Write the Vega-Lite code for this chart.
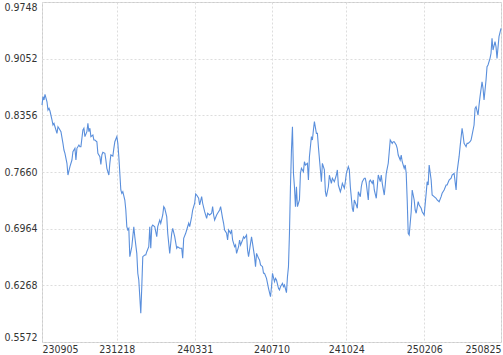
{
  "$schema": "https://vega.github.io/schema/vega-lite/v6.json",
  "width": 459,
  "height": 340,
  "autosize": {"type": "none"},
  "padding": {"left": 42, "top": 2, "right": 2, "bottom": 13},
  "background": "white",
  "config": {
    "view": {"stroke": "#cccccc", "strokeWidth": 1},
    "axis": {
      "labelFont": "DejaVu Sans Condensed",
      "labelFontSize": 10.5,
      "labelColor": "#333333",
      "ticks": false,
      "domain": false,
      "gridColor": "#dddddd",
      "gridDash": [2, 2],
      "gridWidth": 1,
      "title": null
    }
  },
  "data": {
    "values": [
      {"i":0,"v":0.8483},{"i":1,"v":0.8585},{"i":2,"v":0.8544},{"i":3,"v":0.8614},{"i":5,"v":0.8523},{"i":6,"v":0.8421},{"i":7,"v":0.8442},{"i":8,"v":0.8409},{"i":10,"v":0.8299},{"i":11,"v":0.8237},{"i":12,"v":0.8258},{"i":13,"v":0.8216},{"i":15,"v":0.8135},{"i":16,"v":0.8216},{"i":17,"v":0.8197},{"i":19,"v":0.8155},{"i":21,"v":0.8012},{"i":22,"v":0.7930},{"i":23,"v":0.7890},{"i":25,"v":0.7767},{"i":26,"v":0.7623},{"i":28,"v":0.7725},{"i":30,"v":0.7807},{"i":31,"v":0.7909},{"i":33,"v":0.7951},{"i":34,"v":0.7807},{"i":35,"v":0.7951},{"i":37,"v":0.7992},{"i":38,"v":0.7971},{"i":39,"v":0.7971},{"i":41,"v":0.8176},{"i":42,"v":0.8197},{"i":43,"v":0.8094},{"i":45,"v":0.8155},{"i":46,"v":0.8258},{"i":47,"v":0.8155},{"i":48,"v":0.8197},{"i":49,"v":0.8094},{"i":51,"v":0.8114},{"i":52,"v":0.8053},{"i":53,"v":0.8053},{"i":55,"v":0.8032},{"i":56,"v":0.7890},{"i":58,"v":0.7848},{"i":59,"v":0.7754},{"i":60,"v":0.7869},{"i":61,"v":0.7902},{"i":63,"v":0.7890},{"i":64,"v":0.7807},{"i":65,"v":0.7705},{"i":67,"v":0.7623},{"i":68,"v":0.7767},{"i":69,"v":0.7869},{"i":71,"v":0.7856},{"i":72,"v":0.7951},{"i":73,"v":0.8032},{"i":75,"v":0.8094},{"i":76,"v":0.8012},{"i":77,"v":0.7848},{"i":79,"v":0.7439},{"i":80,"v":0.7398},{"i":81,"v":0.7418},{"i":83,"v":0.7316},{"i":84,"v":0.7193},{"i":85,"v":0.6988},{"i":86,"v":0.6948},{"i":87,"v":0.6968},{"i":88,"v":0.6620},{"i":90,"v":0.6742},{"i":91,"v":0.6865},{"i":92,"v":0.6988},{"i":93,"v":0.6865},{"i":95,"v":0.6661},{"i":96,"v":0.6416},{"i":97,"v":0.6333},{"i":99,"v":0.5924},{"i":100,"v":0.6251},{"i":101,"v":0.6620},{"i":103,"v":0.6641},{"i":104,"v":0.6641},{"i":105,"v":0.6681},{"i":107,"v":0.6742},{"i":108,"v":0.6988},{"i":109,"v":0.6723},{"i":110,"v":0.6988},{"i":111,"v":0.7009},{"i":113,"v":0.6988},{"i":115,"v":0.6865},{"i":116,"v":0.6988},{"i":118,"v":0.7070},{"i":119,"v":0.7030},{"i":121,"v":0.7132},{"i":122,"v":0.7234},{"i":123,"v":0.7214},{"i":125,"v":0.7111},{"i":126,"v":0.6907},{"i":128,"v":0.6661},{"i":130,"v":0.6907},{"i":131,"v":0.6968},{"i":133,"v":0.6865},{"i":135,"v":0.6723},{"i":136,"v":0.6742},{"i":138,"v":0.6723},{"i":140,"v":0.6723},{"i":141,"v":0.6600},{"i":142,"v":0.6846},{"i":144,"v":0.6907},{"i":145,"v":0.6948},{"i":147,"v":0.7030},{"i":148,"v":0.6988},{"i":150,"v":0.7111},{"i":151,"v":0.7193},{"i":153,"v":0.7276},{"i":154,"v":0.7390},{"i":155,"v":0.7377},{"i":157,"v":0.7337},{"i":158,"v":0.7255},{"i":160,"v":0.7357},{"i":161,"v":0.7276},{"i":163,"v":0.7172},{"i":165,"v":0.7091},{"i":166,"v":0.7153},{"i":168,"v":0.7132},{"i":170,"v":0.7153},{"i":171,"v":0.7234},{"i":172,"v":0.7132},{"i":173,"v":0.7070},{"i":175,"v":0.7132},{"i":176,"v":0.7153},{"i":178,"v":0.7193},{"i":179,"v":0.7234},{"i":181,"v":0.7091},{"i":182,"v":0.7030},{"i":183,"v":0.6948},{"i":185,"v":0.6907},{"i":186,"v":0.6825},{"i":187,"v":0.6948},{"i":189,"v":0.6907},{"i":190,"v":0.6948},{"i":191,"v":0.6825},{"i":193,"v":0.6742},{"i":194,"v":0.6763},{"i":195,"v":0.6661},{"i":197,"v":0.6742},{"i":198,"v":0.6825},{"i":199,"v":0.6763},{"i":201,"v":0.6825},{"i":202,"v":0.6865},{"i":203,"v":0.6846},{"i":205,"v":0.6886},{"i":206,"v":0.6702},{"i":207,"v":0.6620},{"i":209,"v":0.6784},{"i":210,"v":0.6865},{"i":211,"v":0.6784},{"i":213,"v":0.6620},{"i":214,"v":0.6497},{"i":215,"v":0.6661},{"i":217,"v":0.6600},{"i":218,"v":0.6579},{"i":219,"v":0.6518},{"i":221,"v":0.6497},{"i":222,"v":0.6416},{"i":223,"v":0.6416},{"i":225,"v":0.6354},{"i":226,"v":0.6293},{"i":227,"v":0.6232},{"i":229,"v":0.6128},{"i":230,"v":0.6251},{"i":231,"v":0.6416},{"i":233,"v":0.6313},{"i":234,"v":0.6354},{"i":235,"v":0.6333},{"i":237,"v":0.6232},{"i":238,"v":0.6211},{"i":239,"v":0.6251},{"i":241,"v":0.6293},{"i":242,"v":0.6251},{"i":243,"v":0.6272},{"i":245,"v":0.6178},{"i":246,"v":0.6374},{"i":247,"v":0.6497},{"i":248,"v":0.6907},{"i":249,"v":0.7479},{"i":250,"v":0.7930},{"i":251,"v":0.8216},{"i":252,"v":0.7644},{"i":253,"v":0.7479},{"i":254,"v":0.7234},{"i":255,"v":0.7479},{"i":256,"v":0.7234},{"i":258,"v":0.7316},{"i":259,"v":0.7644},{"i":260,"v":0.7705},{"i":262,"v":0.7664},{"i":263,"v":0.7786},{"i":264,"v":0.7746},{"i":266,"v":0.7767},{"i":267,"v":0.7562},{"i":268,"v":0.7848},{"i":270,"v":0.8094},{"i":271,"v":0.8053},{"i":272,"v":0.8176},{"i":273,"v":0.8278},{"i":275,"v":0.8135},{"i":276,"v":0.8135},{"i":277,"v":0.7971},{"i":279,"v":0.7685},{"i":280,"v":0.7541},{"i":281,"v":0.7767},{"i":283,"v":0.7685},{"i":284,"v":0.7418},{"i":285,"v":0.7357},{"i":287,"v":0.7479},{"i":288,"v":0.7620},{"i":290,"v":0.7521},{"i":291,"v":0.7583},{"i":293,"v":0.7541},{"i":295,"v":0.7623},{"i":296,"v":0.7685},{"i":297,"v":0.7500},{"i":299,"v":0.7418},{"i":300,"v":0.7460},{"i":301,"v":0.7521},{"i":303,"v":0.7460},{"i":304,"v":0.7541},{"i":305,"v":0.7644},{"i":307,"v":0.7725},{"i":308,"v":0.7685},{"i":309,"v":0.7479},{"i":311,"v":0.7214},{"i":312,"v":0.7172},{"i":313,"v":0.7316},{"i":315,"v":0.7255},{"i":316,"v":0.7214},{"i":317,"v":0.7418},{"i":319,"v":0.7357},{"i":320,"v":0.7479},{"i":321,"v":0.7541},{"i":323,"v":0.7583},{"i":324,"v":0.7583},{"i":325,"v":0.7521},{"i":327,"v":0.7316},{"i":328,"v":0.7541},{"i":329,"v":0.7562},{"i":331,"v":0.7521},{"i":332,"v":0.7562},{"i":333,"v":0.7439},{"i":335,"v":0.7337},{"i":336,"v":0.7479},{"i":337,"v":0.7623},{"i":339,"v":0.7541},{"i":340,"v":0.7623},{"i":341,"v":0.7521},{"i":343,"v":0.7377},{"i":344,"v":0.7500},{"i":345,"v":0.7644},{"i":347,"v":0.7767},{"i":348,"v":0.7909},{"i":349,"v":0.8053},{"i":351,"v":0.8012},{"i":352,"v":0.8032},{"i":353,"v":0.8032},{"i":355,"v":0.7992},{"i":356,"v":0.7951},{"i":357,"v":0.7869},{"i":359,"v":0.7807},{"i":360,"v":0.7869},{"i":361,"v":0.7786},{"i":363,"v":0.7705},{"i":364,"v":0.7746},{"i":365,"v":0.7644},{"i":366,"v":0.7316},{"i":367,"v":0.6907},{"i":368,"v":0.6886},{"i":370,"v":0.7172},{"i":371,"v":0.7439},{"i":373,"v":0.7316},{"i":374,"v":0.7193},{"i":375,"v":0.7153},{"i":377,"v":0.7295},{"i":378,"v":0.7255},{"i":380,"v":0.7214},{"i":381,"v":0.7172},{"i":383,"v":0.7132},{"i":385,"v":0.7398},{"i":386,"v":0.7541},{"i":387,"v":0.7500},{"i":388,"v":0.7746},{"i":390,"v":0.7562},{"i":391,"v":0.7377},{"i":393,"v":0.7357},{"i":395,"v":0.7337},{"i":396,"v":0.7316},{"i":398,"v":0.7295},{"i":400,"v":0.7357},{"i":401,"v":0.7398},{"i":403,"v":0.7439},{"i":405,"v":0.7500},{"i":406,"v":0.7500},{"i":408,"v":0.7562},{"i":410,"v":0.7583},{"i":411,"v":0.7623},{"i":413,"v":0.7644},{"i":415,"v":0.7439},{"i":416,"v":0.7664},{"i":418,"v":0.7848},{"i":419,"v":0.7971},{"i":421,"v":0.8197},{"i":422,"v":0.8114},{"i":423,"v":0.8012},{"i":425,"v":0.7971},{"i":426,"v":0.8012},{"i":427,"v":0.8012},{"i":429,"v":0.8032},{"i":430,"v":0.8053},{"i":431,"v":0.8114},{"i":433,"v":0.8237},{"i":434,"v":0.8442},{"i":435,"v":0.8462},{"i":437,"v":0.8360},{"i":438,"v":0.8483},{"i":439,"v":0.8585},{"i":441,"v":0.8769},{"i":442,"v":0.8688},{"i":443,"v":0.8544},{"i":445,"v":0.8790},{"i":446,"v":0.8953},{"i":447,"v":0.8974},{"i":449,"v":0.9056},{"i":450,"v":0.9118},{"i":451,"v":0.9302},{"i":452,"v":0.9158},{"i":454,"v":0.9260},{"i":455,"v":0.9199},{"i":456,"v":0.9056},{"i":458,"v":0.9322},{"i":460,"v":0.9425}
    ]
  },
  "mark": {"type": "line", "color": "#5a8fdc", "strokeWidth": 1.1, "interpolate": "linear"},
  "encoding": {
    "x": {
      "field": "i",
      "type": "quantitative",
      "scale": {"domain": [0, 460], "nice": false, "zero": false},
      "axis": {
        "values": [0, 75, 153, 230, 305, 383, 460],
        "labelFlush": true,
        "labelPadding": 2,
        "labelExpr": "datum.value == 0 ? '230905' : datum.value == 75 ? '231218' : datum.value == 153 ? '240331' : datum.value == 230 ? '240710' : datum.value == 305 ? '241024' : datum.value == 383 ? '250206' : '250825'"
      }
    },
    "y": {
      "field": "v",
      "type": "quantitative",
      "scale": {"domain": [0.5572, 0.9748], "nice": false, "zero": false},
      "axis": {
        "values": [0.5572, 0.6268, 0.6964, 0.766, 0.8356, 0.9052, 0.9748],
        "format": ".4f",
        "labelFlush": true,
        "labelPadding": 5
      }
    }
  }
}
